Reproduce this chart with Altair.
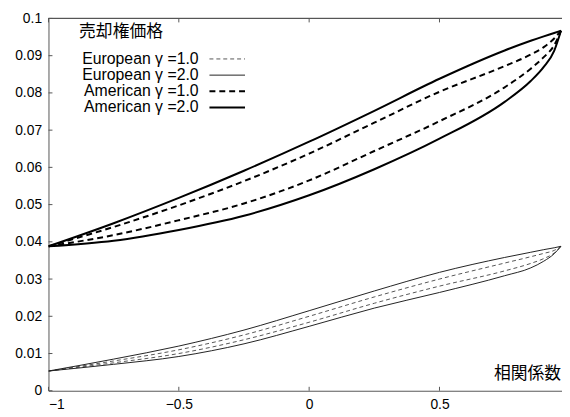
import altair as alt
import pandas as pd

# correlation coefficient grid
rho = [-1.0, -0.75, -0.5, -0.25, 0.0, 0.25, 0.5, 0.75, 0.85, 0.9, 0.94, 0.966]

# American put value, upper / lower branches
am2_up = [0.0388, 0.0450, 0.0518, 0.0591, 0.0669, 0.0752, 0.0838, 0.0914, 0.0940, 0.0952, 0.0961, 0.0967]
am1_up = [0.0388, 0.0440, 0.0498, 0.0563, 0.0637, 0.0720, 0.0803, 0.0872, 0.0903, 0.0923, 0.0946, 0.0967]
am1_lo = [0.0388, 0.0418, 0.0458, 0.0503, 0.0565, 0.0644, 0.0724, 0.0815, 0.0865, 0.0896, 0.0928, 0.0967]
am2_lo = [0.0388, 0.0403, 0.0432, 0.0470, 0.0525, 0.0595, 0.0677, 0.0776, 0.0832, 0.0870, 0.0913, 0.0967]

# European put value, upper / lower branches
eu2_up = [0.0053, 0.0085, 0.0120, 0.0163, 0.0215, 0.0268, 0.0318, 0.0358, 0.0372, 0.0379, 0.0384, 0.0388]
eu1_up = [0.0053, 0.0080, 0.0110, 0.0150, 0.0200, 0.0252, 0.0300, 0.0343, 0.0360, 0.0369, 0.0377, 0.0388]
eu1_lo = [0.0053, 0.0075, 0.0100, 0.0137, 0.0184, 0.0235, 0.0281, 0.0322, 0.0342, 0.0355, 0.0370, 0.0388]
eu2_lo = [0.0053, 0.0071, 0.0092, 0.0126, 0.0173, 0.0222, 0.0264, 0.0309, 0.0330, 0.0348, 0.0368, 0.0388]

series_names = ["European \u03b3 =1.0", "European \u03b3 =2.0",
                "American \u03b3 =1.0", "American \u03b3 =2.0"]
series_data = {
    series_names[0]: (eu1_up, eu1_lo),
    series_names[1]: (eu2_up, eu2_lo),
    series_names[2]: (am1_up, am1_lo),
    series_names[3]: (am2_up, am2_lo),
}
x_ticks = [-1, -0.5, 0, 0.5]
y_ticks = [0, 0.01, 0.02, 0.03, 0.04, 0.05, 0.06, 0.07, 0.08, 0.09, 0.1]

W, H = 520, 377
FONT = "Liberation Sans"
JP = "Noto Sans CJK JP"
AX = "#555555"

# line styles per series
styles = {
    series_names[0]: dict(color="#555555", strokeWidth=1, strokeDash=[4, 3]),
    series_names[1]: dict(color="#222222", strokeWidth=1),
    series_names[2]: dict(color="#000000", strokeWidth=2, strokeDash=[6, 4]),
    series_names[3]: dict(color="#000000", strokeWidth=2),
}

xs = alt.Scale(domain=[-1, 0.97], nice=False, zero=False)
ys = alt.Scale(domain=[0, 0.1], nice=False)

x_axis = alt.Axis(values=x_ticks, format="~g", title=None, ticks=False, grid=False,
                  domainColor=AX, labelFont=FONT, labelFontSize=14, labelColor="#000",
                  labelPadding=7, labelOverlap=False)
y_axis = alt.Axis(values=y_ticks, format="~g", title=None, ticks=False, grid=False,
                  domainColor=AX, labelFont=FONT, labelFontSize=14, labelColor="#000",
                  labelPadding=7, labelOverlap=False)

layers = []
for name in series_names:
    up, lo = series_data[name]
    rows = []
    for branch, vals in (("up", up), ("lo", lo)):
        for r, v in zip(rho, vals):
            rows.append({"rho": r, "value": v, "branch": branch})
    d = pd.DataFrame(rows)
    layers.append(
        alt.Chart(d).mark_line(interpolate="monotone", clip=True, **styles[name]).encode(
            x=alt.X("rho:Q", scale=xs, axis=x_axis),
            y=alt.Y("value:Q", scale=ys, axis=y_axis),
            detail="branch:N",
            order="rho:Q",
        )
    )

xt = pd.DataFrame({"rho": x_ticks})
yt = pd.DataFrame({"value": y_ticks})

xtick_bot = alt.Chart(xt).mark_rule(color=AX).encode(
    x=alt.X("rho:Q", scale=xs, axis=x_axis), y=alt.value(H), y2=alt.value(H - 4))
xtick_top = alt.Chart(xt).mark_rule(color=AX).encode(
    x=alt.X("rho:Q", scale=xs, axis=x_axis), y=alt.value(0), y2=alt.value(4))
ytick = alt.Chart(yt).mark_rule(color=AX).encode(
    y=alt.Y("value:Q", scale=ys, axis=y_axis), x=alt.value(0), x2=alt.value(4))
top_line = alt.Chart(xt).mark_rule(color=AX).encode(
    x=alt.value(0), x2=alt.value(W), y=alt.value(0))

# legend
for i, name in enumerate(series_names):
    py = 41 + 16.4 * i
    ld = pd.DataFrame({"label": [name]})
    layers.append(alt.Chart(ld).mark_text(align="right", baseline="middle", font=FONT,
                                          fontSize=16, color="#000").encode(
        x=alt.value(152), y=alt.value(py), text="label:N"))
    layers.append(alt.Chart(ld).mark_rule(**styles[name]).encode(
        x=alt.value(163), x2=alt.value(199), y=alt.value(py)))

title_df = pd.DataFrame({"label": ["売却権価格"]})
ttl = alt.Chart(title_df).mark_text(align="left", baseline="middle", font=JP,
                                    fontSize=17, color="#000").encode(
    x=alt.value(31), y=alt.value(14), text="label:N")
xlab_df = pd.DataFrame({"label": ["相関係数"]})
xlab = alt.Chart(xlab_df).mark_text(align="right", baseline="middle", font=JP,
                                    fontSize=17, color="#000").encode(
    x=alt.value(519), y=alt.value(360), text="label:N")

chart = alt.layer(*layers, xtick_bot, xtick_top, ytick, top_line, ttl, xlab).properties(
    width=W, height=H,
    autosize=alt.AutoSizeParams(type="none"),
    padding={"left": 41, "top": 8, "right": 0, "bottom": 24},
).configure_view(stroke=None).configure_axis(domainWidth=1)

chart.save("out.html", embed_options={"renderer": "svg", "actions": False})
